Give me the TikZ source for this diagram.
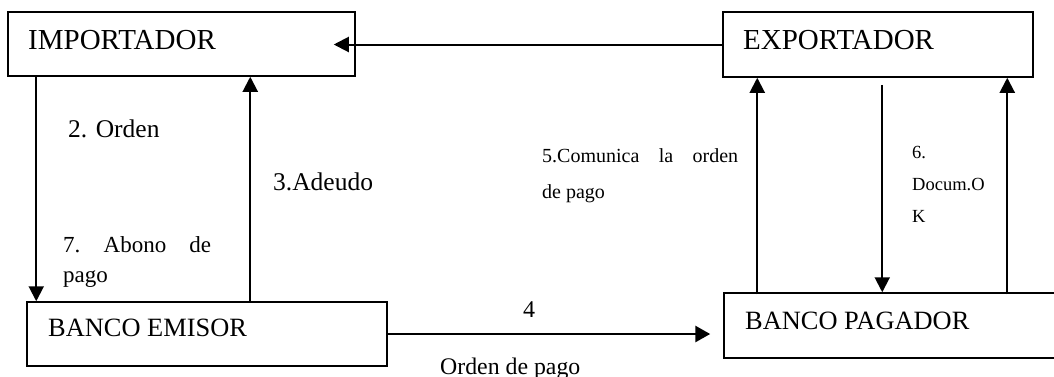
\documentclass[tikz,border=0pt]{standalone}
\usepackage{fontspec}
\setmainfont{Liberation Serif}
\usetikzlibrary{arrows.meta}
\begin{document}
\begin{tikzpicture}[x=1pt,y=-1pt,
  box/.style={draw,line width=1.5pt,inner sep=0pt},
  arr/.style={line width=2pt,-{Triangle[length=15pt,width=15pt]}},
  lbl/.style={anchor=base west,inner sep=0pt}]
\useasboundingbox (0,0) rectangle (1054,376);
% boxes
\node[box,minimum width=347pt,minimum height=64pt] (imp) at (181.5,44) {};
\node[box,minimum width=310pt,minimum height=65pt] (exp) at (878,44.5) {};
\node[box,minimum width=360pt,minimum height=64pt] (emi) at (207,334) {};
\node[box,minimum width=336pt,minimum height=65pt] (pag) at (892,325.5) {};
% box texts
\node[lbl] (timp) at (28,49) {\fontsize{29}{34}\selectfont IMPORTADOR};
\node[lbl] (texp) at (743,49) {\fontsize{29}{34}\selectfont EXPORTADOR};
\node[lbl] (temi) at (48,336) {\fontsize{26.4}{31}\selectfont BANCO EMISOR};
\node[lbl] (tpag) at (745,329) {\fontsize{26.4}{31}\selectfont BANCO PAGADOR};
% connectors
\draw[arr] (exp.west) -- ([xshift=-22pt]imp.east |- exp.west);
\draw[arr] ([xshift=29pt]imp.south west) -- ([xshift=10pt]emi.north west);
\draw[arr] ([xshift=224pt]emi.north west) -- ([xshift=243pt]imp.south west);
\draw[line width=2.8pt,-{Triangle[length=15pt,width=16pt]}] (emi.east) -- ([xshift=-13pt]pag.west |- emi.east);
\draw[arr] ([xshift=34pt,yshift=-2pt]pag.north west) -- ([xshift=35pt]exp.south west);
\draw[arr] ([xshift=160pt,yshift=-7pt]exp.south west) -- ([xshift=159pt]pag.north west);
\draw[arr] ([xshift=284pt,yshift=-2pt]pag.north west) -- ([xshift=285pt]exp.south west);
% labels
\node[lbl] (l2) at (68,137) {\fontsize{25.5}{30}\selectfont 2. Orden};
\node[lbl] (l3) at (273,190) {\fontsize{25.5}{30}\selectfont 3.Adeudo};
\node[lbl] (l7a) at (63,252) {\fontsize{23}{30}\selectfont\hbox to 148pt{7.\hfill Abono\hfill de}};
\node[lbl] (l7b) at (63,282) {\fontsize{23}{30}\selectfont pago};
\node[lbl] (l5a) at (542,162) {\fontsize{20}{36}\selectfont\hbox to 196pt{5.Comunica\hfill la\hfill orden}};
\node[lbl] (l5b) at (542,198) {\fontsize{20}{36}\selectfont de pago};
\node[lbl] (l6a) at (912,158) {\fontsize{18.5}{32}\selectfont 6.};
\node[lbl] (l6b) at (912,190) {\fontsize{18.5}{32}\selectfont Docum.O};
\node[lbl] (l6c) at (912,222) {\fontsize{18.5}{32}\selectfont K};
\node[lbl] (l4) at (523,317) {\fontsize{24}{28}\selectfont 4};
\node[lbl] (l4b) at (440,374) {\fontsize{23.8}{28}\selectfont Orden de pago};
\end{tikzpicture}
\end{document}
